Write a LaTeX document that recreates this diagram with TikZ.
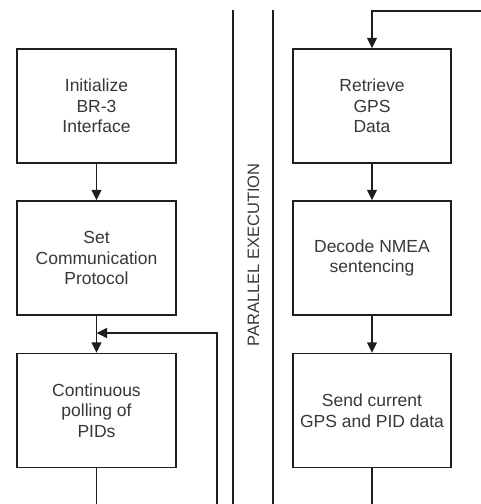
\documentclass[tikz,border=0pt]{standalone}
\usepackage{fontspec}
\setmainfont{Liberation Sans}
\usetikzlibrary{arrows.meta}
\definecolor{txt}{HTML}{383838}
\definecolor{ln}{HTML}{1E1E1E}
\tikzset{
  stepbox/.style={draw=ln, line width=1.4pt, minimum width=159pt, minimum height=114pt,
    inner sep=0pt, align=center, text=txt, font=\fontsize{17.5}{20.5}\selectfont},
  conn/.style={draw=ln, line width=1.4pt},
  arr/.style={conn, -{Triangle[length=10.5pt,width=10pt]}}
}
\begin{document}
\begin{tikzpicture}[x=1pt,y=1pt]
\useasboundingbox[fill=white] (0,0) rectangle (481,-504);
% left column
\node[stepbox] (l1) at (96.5,-106) {Initialize\\BR-3\\Interface};
\node[stepbox] (l2) at (96.5,-258) {Set\\Communication\\Protocol};
\node[stepbox] (l3) at (96.5,-410.5) {Continuous\\polling of\\PIDs};
% right column
\node[stepbox, minimum width=158pt] (r1) at (372,-106) {Retrieve\\GPS\\Data};
\node[stepbox, minimum width=158pt] (r2) at (372,-258) {Decode NMEA\\sentencing};
\node[stepbox, minimum width=158pt] (r3) at (372,-410.5) {Send current\\GPS and PID data};
% parallel separators
\coordinate (s1t) at (233,-10); \coordinate (s1b) at (233,-504);
\coordinate (s2t) at (273,-10); \coordinate (s2b) at (273,-504);
\draw[conn] (s1t) -- (s1b);
\draw[conn] (s2t) -- (s2b);
\node[rotate=90, text=txt, font=\fontsize{16.5}{18}\selectfont] (pe) at (253.5,-255) {PARALLEL EXECUTION};
% left connectors
\draw[arr] (l1) -- (l2);
\coordinate (junc) at (96.5,-333);
\draw[arr] (l2) -- (l3);
\coordinate (fbb) at (217,-504);
\draw[arr] (fbb) |- (junc);
\coordinate (lb) at (96.5,-504);
\draw[conn] (l3) -- (lb);
% right connectors
\coordinate (rt) at (481,-11);
\coordinate (rc) at (372,-11);
\draw[arr] (rt) -- (rc) -- (r1);
\draw[arr] (r1) -- (r2);
\draw[arr] (r2) -- (r3);
\coordinate (rb) at (372,-504);
\draw[conn] (r3) -- (rb);
\end{tikzpicture}
\end{document}
